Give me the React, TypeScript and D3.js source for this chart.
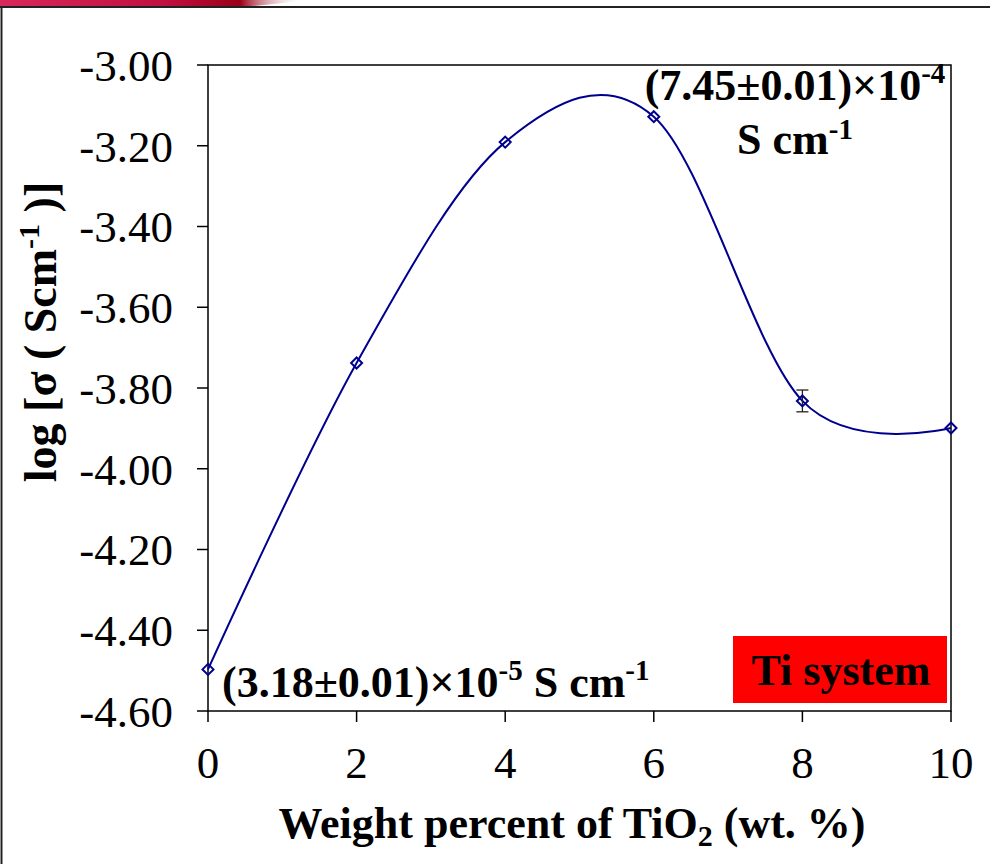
import React from "react";
import * as d3 from "d3";

const wtPercent = [0, 2, 4, 6, 8, 10];
const logSigma = [-4.497, -3.738, -3.191, -3.128, -3.832, -3.899];
const errBars = [0, 0, 0, 0, 0.027, 0];
const yTicks = [-3.0, -3.2, -3.4, -3.6, -3.8, -4.0, -4.2, -4.4, -4.6];
const xTicks = [0, 2, 4, 6, 8, 10];

const W = 990;
const H = 864;
const M = { left: 208, right: 951, top: 65, bottom: 711 };
const serif = "'Liberation Serif', 'Times New Roman', serif";
const navy = "#00008f";

export default function App() {
  const x = d3.scaleLinear().domain([0, 10]).range([M.left, M.right]);
  const y = d3.scaleLinear().domain([-4.6, -3.0]).range([M.bottom, M.top]);
  const pts: [number, number][] = wtPercent.map((w, i) => [x(w), y(logSigma[i])]);
  const line = d3.line().curve(d3.curveCardinal.tension(0))(pts) || "";

  return (
    <div style={{ position: "absolute", left: 0, top: 0 }}>
      <svg width={W} height={H} style={{ display: "block", background: "#fff" }}>
        <defs>
          <linearGradient id="redbar" x1="0" x2="1" y1="0" y2="0">
            <stop offset="0" stopColor="#d8285c" />
            <stop offset="0.55" stopColor="#c01040" />
            <stop offset="0.8" stopColor="#9a0018" />
            <stop offset="1" stopColor="#ffffff" stopOpacity="0.2" />
          </linearGradient>
        </defs>
        <path d="M0,0 L300,0 Q270,6 230,7 L0,7 Z" fill="url(#redbar)" />
        <line x1={0} x2={W} y1={7} y2={7} stroke="#222" strokeWidth={2} />
        <line x1={1.5} x2={1.5} y1={7} y2={H} stroke="#222" strokeWidth={2} />

        <rect x={M.left} y={M.top} width={M.right - M.left} height={M.bottom - M.top}
          fill="none" stroke="#000" strokeWidth={1.5} />

        {yTicks.map((t) => (
          <g key={"y" + t}>
            <line x1={M.left - 11} x2={M.left} y1={y(t)} y2={y(t)} stroke="#000" strokeWidth={1.5} />
            <text x={M.left - 35} y={y(t)} dy="0.35em" textAnchor="end" fontFamily={serif} fontSize={45}>
              {t.toFixed(2)}
            </text>
          </g>
        ))}
        {xTicks.map((t) => (
          <g key={"x" + t}>
            <line x1={x(t)} x2={x(t)} y1={M.bottom} y2={M.bottom + 11} stroke="#000" strokeWidth={1.5} />
            <text x={x(t)} y={778} textAnchor="middle" fontFamily={serif} fontSize={45}>
              {t}
            </text>
          </g>
        ))}

        <text x={572} y={838} textAnchor="middle" fontFamily={serif} fontSize={44} fontWeight="bold">
          Weight percent of TiO<tspan fontSize={30} dy={8}>2</tspan><tspan dy={-8}> (wt. %)</tspan>
        </text>
        <text transform={`translate(56,332) rotate(-90)`} textAnchor="middle"
          fontFamily={serif} fontSize={46} fontWeight="bold">
          log [σ ( Scm<tspan fontSize={30} dy={-17}>-1</tspan><tspan dy={17}> )]</tspan>
        </text>

        <path d={line} fill="none" stroke={navy} strokeWidth={2} />
        {wtPercent.map((w, i) =>
          errBars[i] > 0 ? (
            <g key={"e" + i} stroke="#222" strokeWidth={1.3}>
              <line x1={x(w)} x2={x(w)} y1={y(logSigma[i] + errBars[i])} y2={y(logSigma[i] - errBars[i])} />
              <line x1={x(w) - 6} x2={x(w) + 6} y1={y(logSigma[i] + errBars[i])} y2={y(logSigma[i] + errBars[i])} />
              <line x1={x(w) - 6} x2={x(w) + 6} y1={y(logSigma[i] - errBars[i])} y2={y(logSigma[i] - errBars[i])} />
            </g>
          ) : null
        )}
        {pts.map(([px, py], i) => (
          <path key={"m" + i} d={`M${px},${py - 5.5} L${px + 5.5},${py} L${px},${py + 5.5} L${px - 5.5},${py} Z`}
            fill="none" stroke={navy} strokeWidth={2} />
        ))}

        <text x={795} y={100} textAnchor="middle" fontFamily={serif} fontSize={44} fontWeight="bold">
          (7.45±0.01)×10<tspan fontSize={29} dy={-17}>-4</tspan>
        </text>
        <text x={795} y={154} textAnchor="middle" fontFamily={serif} fontSize={44} fontWeight="bold">
          S cm<tspan fontSize={29} dy={-15}>-1</tspan>
        </text>
        <text x={222} y={697} fontFamily={serif} fontSize={44} fontWeight="bold">
          (3.18±0.01)×10<tspan fontSize={29} dy={-17}>-5</tspan><tspan dy={17}> S cm</tspan>
          <tspan fontSize={29} dy={-17}>-1</tspan>
        </text>

        <rect x={733} y={636} width={214} height={67} fill="#ff0000" />
        <text x={841} y={685} textAnchor="middle" fontFamily={serif} fontSize={44} fontWeight="bold">
          Ti system
        </text>
      </svg>
    </div>
  );
}
